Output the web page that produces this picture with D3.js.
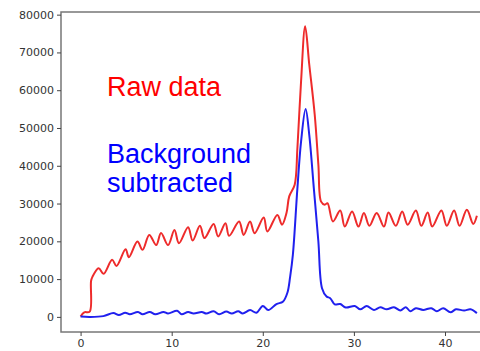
<!DOCTYPE html>
<html>
<head>
<meta charset="utf-8">
<script src="https://cdn.jsdelivr.net/npm/d3@7"></script>
<style>
  body { margin: 0; background: #fff; }
  svg { display: block; }
</style>
</head>
<body>
<svg id="chart"></svg>
<script>
// raw data curve (red), peaks and troughs
const rawX = [0, 0.4, 1.0, 1.15, 1.3, 1.98, 2.53, 3.46, 3.94, 4.94, 5.3, 6.24, 6.8, 7.54, 8.3, 8.83, 9.6,
  10.3, 10.8, 11.8, 12.3, 13.1, 13.6, 14.6, 15.1, 15.9, 16.3, 17.4, 17.9, 18.6, 19.1, 20.1, 20.5,
  21.6, 22.1, 22.6, 22.9, 23.5, 23.8, 24.2, 24.65, 25.1, 25.7, 26.1, 26.4, 26.8, 27.1, 27.7, 28.5,
  29.0, 29.8, 30.5, 31.1, 31.7, 32.5, 33.3, 33.8, 34.6, 35.3, 35.9, 36.8, 37.4, 38.1, 38.6, 39.6,
  40.2, 41.0, 41.6, 42.4, 43.1, 43.5];
const rawY = [100, 1200, 1400, 9500, 10600, 12900, 11400, 15100, 13500, 17900, 15800, 19950, 17750, 21700, 19000, 22200, 19000,
  23000, 19500, 23750, 20200, 24100, 20850, 24600, 21300, 24800, 21450, 25250, 21700, 25250, 22170, 26300, 22600,
  27000, 24400, 27500, 31900, 35000, 44700, 62300, 76900, 66800, 53500, 40300, 30500, 29700, 30100, 25250, 28150,
  23900, 27900, 23900, 27500, 24100, 27500, 23900, 27600, 24100, 27900, 24400, 28150, 24100, 27600, 23900, 28150,
  24100, 28150, 24100, 28350, 24600, 26750];

// background subtracted curve (blue)
const bgX = [0, 1.0, 2.5, 3.6, 4.2, 4.9, 5.4, 6.3, 6.8, 7.6, 8.2, 9.1, 9.6, 10.6, 11.1, 11.8, 12.4, 13.3,
  13.8, 14.6, 15.2, 16.0, 16.6, 17.3, 17.8, 18.6, 19.3, 20.0, 20.6, 21.5, 22.2, 22.7, 23.0, 23.3, 23.8,
  24.2, 24.7, 25.1, 25.6, 26.1, 26.5, 27.0, 27.4, 27.9, 28.5, 29.1, 30.1, 30.7, 31.4, 32.2, 32.9, 33.6,
  34.4, 35.1, 35.7, 36.2, 36.8, 37.6, 38.5, 39.1, 39.8, 40.6, 41.2, 42.1, 42.8, 43.5];
const bgY = [100, 0, 200, 1000, 500, 1100, 700, 1300, 700, 1300, 700, 1300, 900, 1600, 700, 1300, 900, 1300,
  900, 1500, 700, 1400, 900, 1500, 900, 1800, 1100, 2900, 1800, 3400, 4000, 6400, 10600, 16400, 34100,
  46400, 55000, 48200, 34100, 19950, 7600, 5400, 4950, 3300, 3400, 2500, 2900, 2000, 2900, 1850, 2550, 2000,
  2550, 1700, 2550, 1500, 2300, 1850, 2300, 1500, 2300, 1200, 2000, 1700, 2000, 1000];

const xTicks = [0, 10, 20, 30, 40];
const yTicks = [0, 10000, 20000, 30000, 40000, 50000, 60000, 70000, 80000];
const labels = [
  { lines: ["Raw data"], color: "#ff0000" },
  { lines: ["Background", "subtracted"], color: "#0000ff" }
];

const W = 480, H = 351;
const m = { left: 61, top: 12, right: -6, bottom: 19 };

const svg = d3.select("#chart").attr("width", W).attr("height", H);

const x = d3.scaleLinear().domain([-2.15, 44.5]).range([m.left, W - m.right]);
const y = d3.scaleLinear().domain([-4000, 80700]).range([H - m.bottom, m.top]);

// axes box
svg.append("rect")
  .attr("x", m.left).attr("y", m.top)
  .attr("width", W - m.right - m.left).attr("height", H - m.bottom - m.top)
  .attr("fill", "none").attr("stroke", "#777").attr("stroke-width", 1.5);

const xaxis = svg.append("g")
  .attr("transform", `translate(0,${H - m.bottom})`)
  .call(d3.axisBottom(x).tickValues(xTicks).tickSize(4).tickPadding(3));
const yaxis = svg.append("g")
  .attr("transform", `translate(${m.left},0)`)
  .call(d3.axisLeft(y).tickValues(yTicks).tickSize(4).tickPadding(3).tickFormat(d3.format("d")));

[xaxis, yaxis].forEach(a => {
  a.select(".domain").remove();
  a.selectAll(".tick line").attr("stroke", "#444");
  a.selectAll("text").attr("fill", "#333").attr("font-size", "11px")
    .attr("font-family", "DejaVu Sans, sans-serif");
});

const line = d3.line().curve(d3.curveCatmullRom.alpha(0.5));

svg.append("path")
  .attr("d", line(rawX.map((d, i) => [x(d), y(rawY[i])])))
  .attr("fill", "none").attr("stroke", "#ee2b2b").attr("stroke-width", 2);

svg.append("path")
  .attr("d", line(bgX.map((d, i) => [x(d), y(bgY[i])])))
  .attr("fill", "none").attr("stroke", "#2020ee").attr("stroke-width", 2);

// annotations
const lblY = [96, 163];
labels.forEach((l, i) => {
  const t = svg.append("text")
    .attr("x", 107).attr("y", lblY[i])
    .attr("fill", l.color)
    .attr("font-family", "Liberation Sans, Arial, sans-serif")
    .attr("font-size", "27px");
  l.lines.forEach((s, j) => {
    t.append("tspan").attr("x", 107).attr("dy", j === 0 ? 0 : 29).text(s);
  });
});
</script>
</body>
</html>
